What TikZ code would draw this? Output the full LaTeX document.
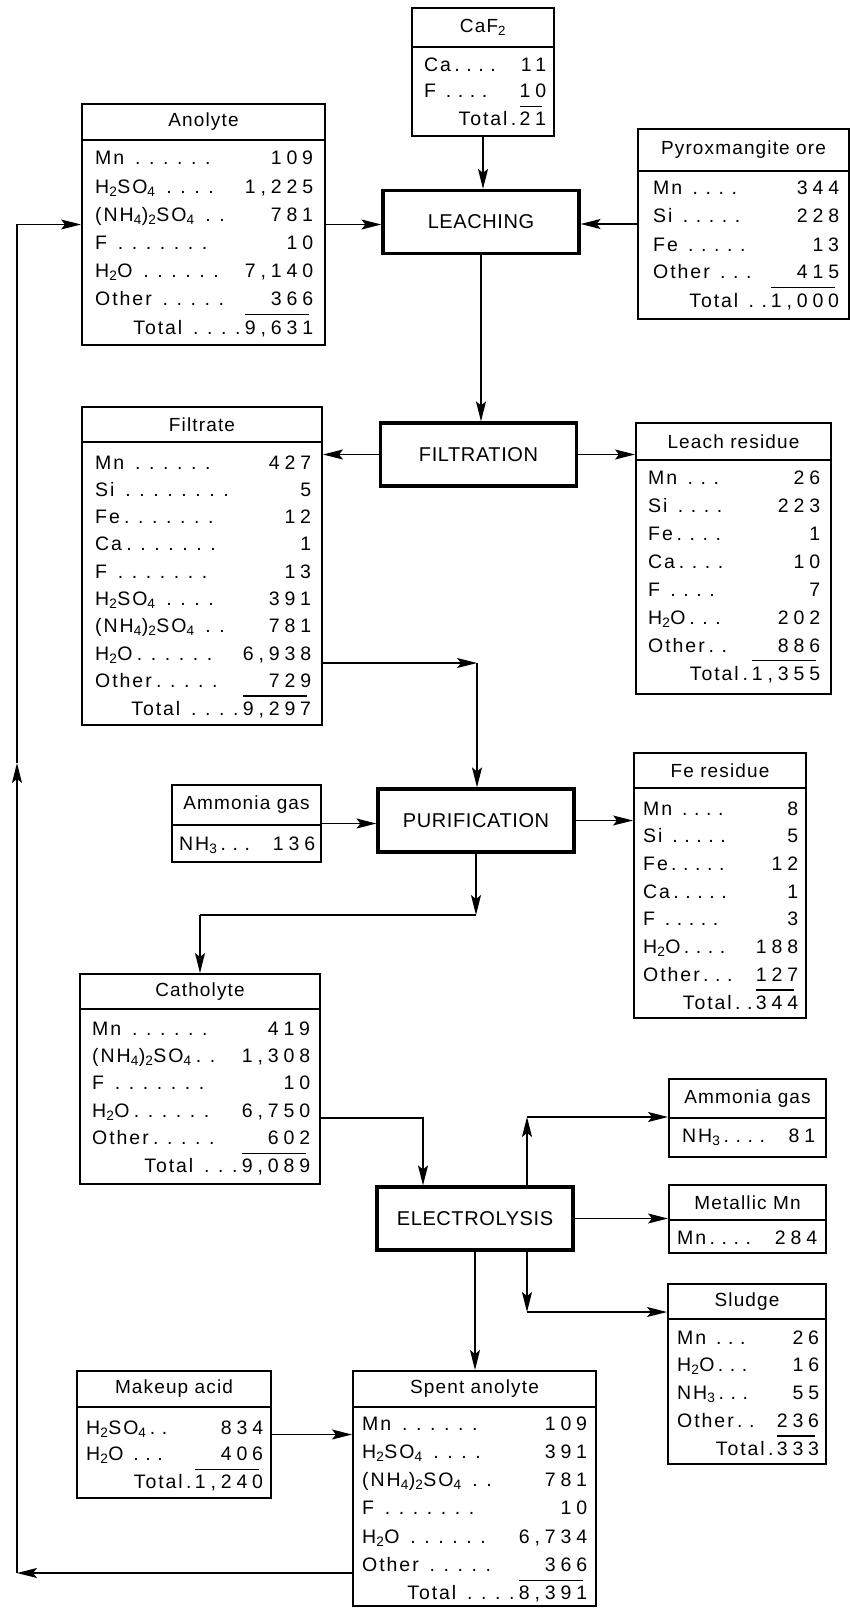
\documentclass[tikz,border=0pt]{standalone}
\usepackage{fontspec}
\setmainfont{Liberation Sans}[LetterSpace=10]
\newfontfamily\pfam{Liberation Sans}[LetterSpace=3]
\newfontfamily\hfam{Liberation Sans}[LetterSpace=6]
\newfontfamily\numfam{Liberation Sans}[LetterSpace=25]
\usetikzlibrary{arrows.meta,calc}
\newlength\dotw
\setlength\dotw{14pt}
\newcommand\pd{\hbox to\dotw{\hss.\hss}}
\newcommand\ovl[1]{\vbox{\hrule height 1.4pt\kern 5pt\hbox{\numfam#1\kern-.2em}}}
\newcommand\myrow[2]{\leavevmode\hbox to\linewidth{#1\hfill{\numfam#2\kern-.2em}}}
\newcommand\mytot[2]{\leavevmode\hbox to\linewidth{\hfill#1\ovl{#2}}}
\newcommand\sbs[1]{\textsubscript{#1}}
\newcommand\tabfont{\fontsize{19.5}{28}\selectfont}
\newcommand\headfont{\hfam\fontsize{19}{24}\selectfont}
\newcommand\procfont{\pfam\fontsize{20}{24}\selectfont}
% #1 name, #2 x1, #3 y1, #4 x2, #5 y2, #6 y of header line, #7 title
\newcommand\tabbox[7]{%
  \node[tb,anchor=north west,minimum width={(#4)-(#2)},minimum height={(#5)-(#3)}] (#1) at (#2,#3) {};
  \node[th,anchor=north west,minimum width={(#4)-(#2)},minimum height={(#6)-(#3)}] (#1-h) at (#2,#3) {#7};
}
% #1 name, #2 x left, #3 x right, #4 first baseline, #5 pitch, #6 rows
\newcommand\rowsat[6]{%
  \node[rw,text width={(#3)-(#2)}] (#1) at (#2,#4) {\setlength\baselineskip{#5pt}#6};
}
\begin{document}
\begin{tikzpicture}[x=1pt,y=-1pt,
  tb/.style={draw,line width=2pt,inner sep=0pt},
  th/.style={draw,line width=2pt,inner sep=0pt,font=\headfont},
  rw/.style={inner sep=0pt,font=\tabfont,anchor=base west},
  proc/.style={draw,line width=3.2pt,minimum width=196pt,minimum height=63pt,inner sep=0pt,font=\procfont},
  ln/.style={line width=1.3pt},
  arr/.style={ln,-{Stealth[length=20pt,width=10pt,inset=4pt]}}]
\path[use as bounding box,fill=white] (0,0) rectangle (850,1608);

% process boxes
\node[proc] (leach) at (481,222) {LEACHING};
\node[proc] (filt) at (478.5,454.5) {FILTRATION};
\node[proc] (purif) at (476,820.5) {PURIFICATION};
\node[proc] (elec) at (475,1218.5) {ELECTROLYSIS};

% CaF2
\tabbox{caf}{411}{7}{553}{135}{46}{CaF\sbs{2}}
\rowsat{caf-r}{424}{542}{72}{26}{\setlength\dotw{12pt}%
\myrow{Ca\pd\pd\pd\pd}{11}\\%
\myrow{F \pd\pd\pd\pd}{10}\\%
\mytot{Total\pd}{21}}

% Anolyte
\tabbox{anolyte}{81}{103}{324}{344}{139}{Anolyte}
\rowsat{anolyte-r}{95}{309}{165}{28.2}{%
\myrow{Mn \pd\pd\pd\pd\pd\pd}{109}\\%
\myrow{H\sbs{2}SO\sbs{4} \pd\pd\pd\pd}{1,225}\\%
\myrow{(NH\sbs{4})\sbs{2}SO\sbs{4} \pd\pd}{781}\\%
\myrow{F \pd\pd\pd\pd\pd\pd\pd}{10}\\%
\myrow{H\sbs{2}O \pd\pd\pd\pd\pd\pd}{7,140}\\%
\myrow{Other \pd\pd\pd\pd\pd}{366}\\%
\mytot{Total \pd\pd\pd\pd}{9,631}}

% Pyroxmangite ore
\tabbox{pyrox}{637}{128}{848}{318}{170}{Pyroxmangite ore}
\rowsat{pyrox-r}{653}{835}{195}{28}{\setlength\dotw{13pt}%
\myrow{Mn \pd\pd\pd\pd}{344}\\%
\myrow{Si \pd\pd\pd\pd\pd}{228}\\%
\myrow{Fe \pd\pd\pd\pd\pd}{13}\\%
\myrow{Other \pd\pd\pd}{415}\\%
\mytot{Total \pd\pd}{1,000}}

% Filtrate
\tabbox{filtrate}{81}{406}{321}{724}{441}{Filtrate}
\rowsat{filtrate-r}{95}{307}{469}{27.3}{%
\myrow{Mn \pd\pd\pd\pd\pd\pd}{427}\\%
\myrow{Si \pd\pd\pd\pd\pd\pd\pd\pd}{5}\\%
\myrow{Fe\pd\pd\pd\pd\pd\pd\pd}{12}\\%
\myrow{Ca\pd\pd\pd\pd\pd\pd\pd}{1}\\%
\myrow{F \pd\pd\pd\pd\pd\pd\pd}{13}\\%
\myrow{H\sbs{2}SO\sbs{4} \pd\pd\pd\pd}{391}\\%
\myrow{(NH\sbs{4})\sbs{2}SO\sbs{4} \pd\pd}{781}\\%
\myrow{H\sbs{2}O\pd\pd\pd\pd\pd\pd}{6,938}\\%
\myrow{Other\pd\pd\pd\pd\pd}{729}\\%
\mytot{Total \pd\pd\pd\pd}{9,297}}

% Leach residue
\tabbox{lres}{635}{422}{830}{693}{459}{Leach residue}
\rowsat{lres-r}{648}{816}{484}{28}{\setlength\dotw{13pt}%
\myrow{Mn \pd\pd\pd}{26}\\%
\myrow{Si \pd\pd\pd\pd}{223}\\%
\myrow{Fe\pd\pd\pd\pd}{1}\\%
\myrow{Ca\pd\pd\pd\pd}{10}\\%
\myrow{F \pd\pd\pd\pd}{7}\\%
\myrow{H\sbs{2}O\pd\pd\pd}{202}\\%
\myrow{Other\pd\pd}{886}\\%
\mytot{Total\pd}{1,355}}

% Ammonia gas (purification)
\tabbox{amm1}{171}{784}{320}{861}{824}{Ammonia gas}
\rowsat{amm1-r}{179}{311}{850}{28}{\setlength\dotw{12pt}%
\myrow{NH\sbs{3}\pd\pd\pd}{136}}

% Fe residue
\tabbox{feres}{633}{752}{805}{1017}{787}{Fe residue}
\rowsat{feres-r}{643}{794}{815}{27.7}{\setlength\dotw{12pt}%
\myrow{Mn \pd\pd\pd\pd}{8}\\%
\myrow{Si \pd\pd\pd\pd\pd}{5}\\%
\myrow{Fe\pd\pd\pd\pd\pd}{12}\\%
\myrow{Ca\pd\pd\pd\pd\pd}{1}\\%
\myrow{F \pd\pd\pd\pd\pd}{3}\\%
\myrow{H\sbs{2}O\pd\pd\pd\pd}{188}\\%
\myrow{Other\pd\pd\pd}{127}\\%
\mytot{Total\pd\pd}{344}}

% Catholyte
\tabbox{cath}{79}{973}{319}{1183}{1008}{Catholyte}
\rowsat{cath-r}{92}{306}{1035}{27.4}{%
\myrow{Mn \pd\pd\pd\pd\pd\pd}{419}\\%
\myrow{(NH\sbs{4})\sbs{2}SO\sbs{4}\pd\pd}{1,308}\\%
\myrow{F \pd\pd\pd\pd\pd\pd\pd}{10}\\%
\myrow{H\sbs{2}O\pd\pd\pd\pd\pd\pd}{6,750}\\%
\myrow{Other\pd\pd\pd\pd\pd}{602}\\%
\mytot{Total \pd\pd\pd}{9,089}}

% Ammonia gas (electrolysis)
\tabbox{amm2}{668}{1078}{825}{1156}{1117}{Ammonia gas}
\rowsat{amm2-r}{682}{811}{1142}{28}{\setlength\dotw{12pt}%
\myrow{NH\sbs{3}\pd\pd\pd\pd}{81}}

% Metallic Mn
\tabbox{metal}{668}{1184}{825}{1252}{1219}{Metallic Mn}
\rowsat{metal-r}{677}{813}{1244}{28}{\setlength\dotw{12pt}%
\myrow{Mn\pd\pd\pd\pd}{284}}

% Sludge
\tabbox{sludge}{667}{1283}{825}{1463}{1318}{Sludge}
\rowsat{sludge-r}{677}{815}{1344}{27.75}{\setlength\dotw{12pt}%
\myrow{Mn \pd\pd\pd}{26}\\%
\myrow{H\sbs{2}O\pd\pd\pd}{16}\\%
\myrow{NH\sbs{3}\pd\pd\pd}{55}\\%
\myrow{Other\pd\pd}{236}\\%
\mytot{Total\pd}{333}}

% Makeup acid
\tabbox{makeup}{76}{1370}{270}{1497}{1406}{Makeup acid}
\rowsat{makeup-r}{86}{259}{1434}{26.5}{\setlength\dotw{12pt}%
\myrow{H\sbs{2}SO\sbs{4}\pd\pd}{834}\\%
\myrow{H\sbs{2}O \pd\pd\pd}{406}\\%
\mytot{Total\pd}{1,240}}

% Spent anolyte
\tabbox{spent}{352}{1370}{595}{1605}{1406}{Spent anolyte}
\rowsat{spent-r}{362}{583}{1430}{28.3}{%
\myrow{Mn \pd\pd\pd\pd\pd\pd}{109}\\%
\myrow{H\sbs{2}SO\sbs{4} \pd\pd\pd\pd}{391}\\%
\myrow{(NH\sbs{4})\sbs{2}SO\sbs{4} \pd\pd}{781}\\%
\myrow{F \pd\pd\pd\pd\pd\pd\pd}{10}\\%
\myrow{H\sbs{2}O \pd\pd\pd\pd\pd\pd}{6,734}\\%
\myrow{Other \pd\pd\pd\pd\pd}{366}\\%
\mytot{Total \pd\pd\pd\pd}{8,391}}

% connectors
\draw[arr] (caf.south) -- (caf.south |- leach.north);
\draw[arr] (anolyte.east) -- (anolyte.east -| leach.west);
\draw[arr] (pyrox.west) -- (pyrox.west -| leach.east);
\draw[arr] (leach.south) -- (leach.south |- filt.north);
\draw[arr] (filt.west) -- (filt.west -| filtrate.east);
\draw[arr] (filt.east) -- (filt.east -| lres.west);
\coordinate (c1) at (477,663);
\draw[arr] (filtrate.east |- c1) -- (c1);
\draw[arr] (c1) -- (c1 |- purif.north);
\draw[arr] (amm1.east) -- (amm1.east -| purif.west);
\draw[arr] (purif.east) -- (purif.east -| feres.west);
\coordinate (c2) at (476,915);
\coordinate (c3) at (200,915);
\draw[arr] (purif.south) -- (c2);
\draw[ln] (c2) -- (c3);
\draw[arr] (c3) -- (c3 |- cath.north);
\coordinate (c4) at (423,1118);
\draw[arr] (cath.east |- c4) -- (c4) -- (c4 |- elec.north);
\coordinate (c5) at (527,1117);
\draw[arr] (c5 |- elec.north) -- (c5);
\draw[arr] (c5) -- (c5 -| amm2.west);
\draw[arr] (elec.east) -- (elec.east -| metal.west);
\coordinate (c6) at (527,1312);
\draw[arr] (c6 |- elec.south) -- (c6);
\draw[arr] (c6) -- (c6 -| sludge.west);
\draw[arr] (elec.south) -- (elec.south |- spent.north);
\draw[arr] (makeup.east) -- (makeup.east -| spent.west);
\coordinate (c7) at (17,1573);
\coordinate (c8) at (17,763);
\draw[arr] (spent.west |- c7) -- (c7);
\draw[arr] (c7) -- (c8);
\draw[arr] (c8) -- (c8 |- anolyte.west) -- (anolyte.west);
\end{tikzpicture}
\end{document}
